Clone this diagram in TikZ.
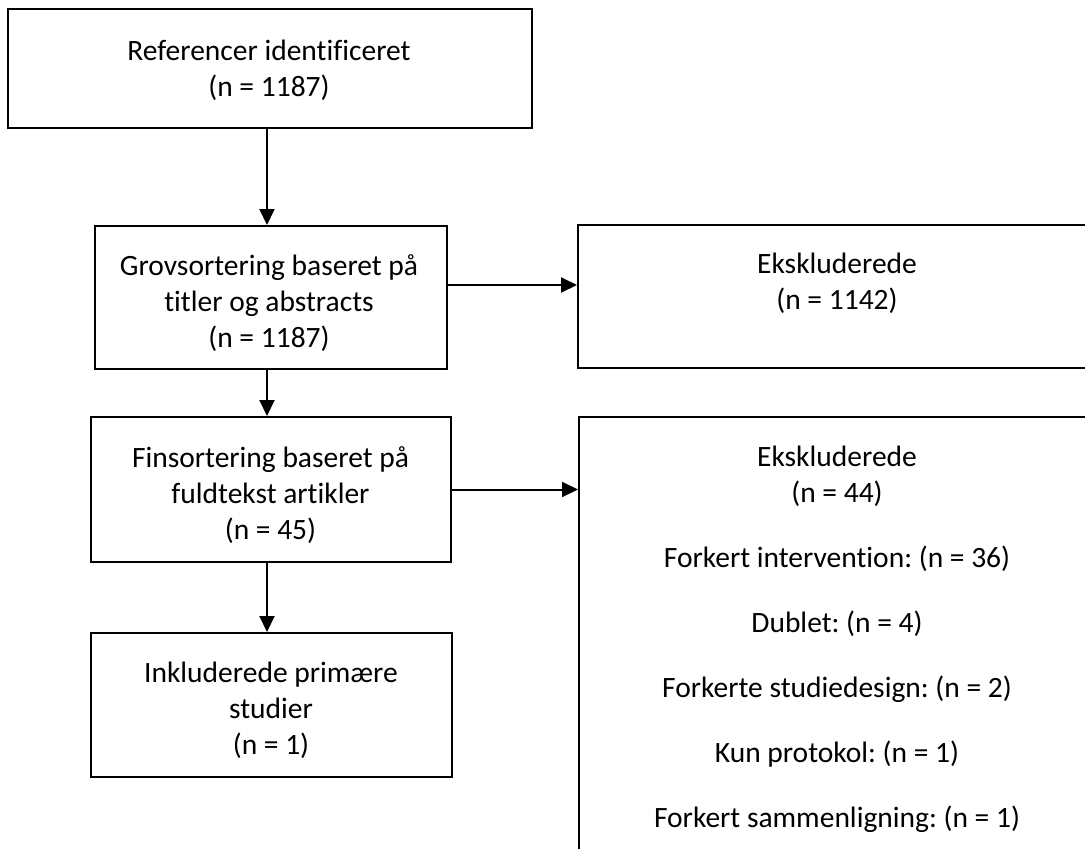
\documentclass[tikz,border=0pt]{standalone}
\usepackage{fontspec}
\setmainfont{Carlito}[Ligatures=NoCommon]
\usetikzlibrary{arrows.meta}
\frenchspacing
\newlength{\du}
\setlength{\du}{1pt}
\definecolor{dialinecolor}{rgb}{0.000000, 0.000000, 0.000000}
\tikzset{
  kasse/.style={draw=dialinecolor, line width=2\du, fill=white, inner sep=0pt},
  tekst/.style={align=center, inner sep=0pt, text=dialinecolor,
    font=\fontsize{29.5\du}{36\du}\selectfont},
  pil/.style={draw=dialinecolor, line width=2\du, -{Triangle[length=16pt,width=15pt]}},
}
\begin{document}
\begin{tikzpicture}
\pgftransformxscale{1.000000}
\pgftransformyscale{-1.000000}
\useasboundingbox (0\du,0\du) rectangle (1085\du,849\du);
% boxes
\node[kasse, minimum width=524\du, minimum height=119\du] (ref) at (270\du,68.5\du) {};
\node[tekst] (ref-tekst) at (269\du,70\du) {Referencer identificeret\\(n = 1187)};
\node[kasse, minimum width=352\du, minimum height=143\du] (grov) at (271\du,297.5\du) {};
\node[tekst] (grov-tekst) at (269\du,303\du) {Grovsortering baseret på\\titler og abstracts\\(n = 1187)};
\node[kasse, minimum width=518\du, minimum height=143\du] (eks1) at (837\du,296.5\du) {};
\node[tekst] (eks1-tekst) at (837\du,283\du) {Ekskluderede\\(n = 1142)};
\node[kasse, minimum width=360\du, minimum height=145\du] (fin) at (271\du,489.5\du) {};
\node[tekst] (fin-tekst) at (270.5\du,495\du) {Finsortering baseret på\\fuldtekst artikler\\(n = 45)};
\node[kasse, minimum width=517\du, minimum height=463\du] (eks2) at (837.5\du,648.5\du) {};
\node[tekst, anchor=north] (eks2-tekst) at (837\du,446\du) {Ekskluderede\\(n = 44)\\[29\du]
  Forkert intervention: (n = 36)\\[29\du]
  Dublet: (n = 4)\\[29\du]
  Forkerte studiedesign: (n = 2)\\[29\du]
  Kun protokol: (n = 1)\\[29\du]
  Forkert sammenligning: (n = 1)};
\node[kasse, minimum width=361\du, minimum height=144\du] (inkl) at (271.5\du,705\du) {};
\node[tekst] (inkl-tekst) at (271\du,710\du) {Inkluderede primære\\studier\\(n = 1)};
% arrows
\coordinate (akse) at (267\du,0\du);
\coordinate (h1) at (0\du,285\du);
\draw[pil] (ref.south -| akse)--(grov.north -| akse);
\draw[pil] (grov.south -| akse)--(fin.north -| akse);
\draw[pil] (fin.south -| akse)--(inkl.north -| akse);
\draw[pil] (grov.east |- h1)--(eks1.west |- h1);
\draw[pil] (fin.east)--(fin.east -| eks2.west);
\end{tikzpicture}
\end{document}
